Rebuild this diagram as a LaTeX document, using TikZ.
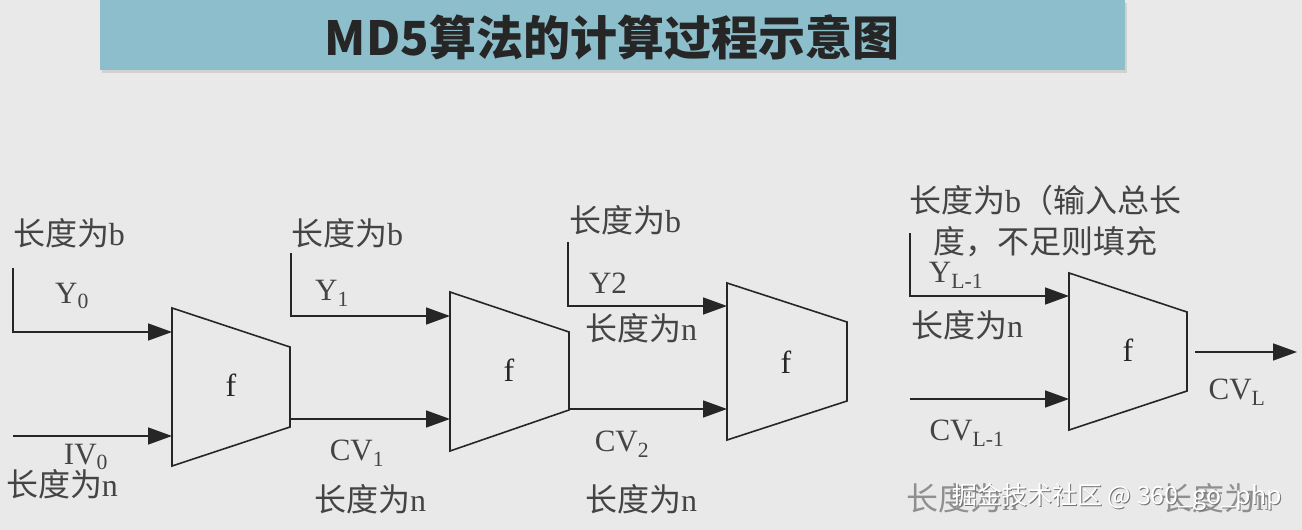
\documentclass[tikz,border=0pt]{standalone}
\usepackage{fontspec}
\setmainfont{Liberation Serif}
\newfontfamily\cjk{Noto Sans CJK SC}
\usetikzlibrary{arrows.meta}
\definecolor{bg}{HTML}{E9E9E9}
\definecolor{banner}{HTML}{8CBFCB}
\definecolor{ink}{HTML}{262626}
\definecolor{txt}{HTML}{444444}
\newcommand\lenlab[1]{{\cjk 长度为}#1}
\begin{document}
\begin{tikzpicture}[x=1pt,y=-1pt,
  trap/.style={draw=ink,line width=1.6pt,line join=miter},
  wire/.style={draw=ink,line width=1.6pt},
  arr/.style={wire,-{Triangle[length=24pt,width=17pt]}},
  lab/.style={font=\fontsize{31}{33}\selectfont,text=txt,inner sep=0pt},
  clab/.style={font=\fontsize{32}{34}\selectfont,text=txt,inner sep=0pt},
  flab/.style={font=\fontsize{32}{34}\selectfont,text=ink,inner sep=0pt}]
\useasboundingbox (0,0) rectangle (1302,530);
\fill[bg] (0,0) rectangle (1302,530);
% banner
\fill[black!18] (102,3) rectangle (1127,73);
\fill[banner] (100,0) rectangle (1125,70);
\node[font=\cjk\bfseries\fontsize{47}{49}\selectfont,text=black!85,inner sep=0pt] (title) at (612,37) {MD5算法的计算过程示意图};

% ---------- block 1 ----------
\coordinate (a1) at (172,308); \coordinate (a2) at (290,347);
\coordinate (a3) at (290,427); \coordinate (a4) at (172,466);
\draw[trap] (a1) -- (a2) -- (a3) -- (a4) -- cycle;
\node[flab] (f1) at (231,385) {f};
\coordinate (y0s) at (13,268); \coordinate (y0c) at (13,332); \coordinate (y0e) at (172,332);
\draw[arr] (y0s) -- (y0c) -- (y0e);
\coordinate (iv0s) at (13,436); \coordinate (iv0e) at (172,436);
\draw[arr] (iv0s) -- (iv0e);
\node[clab] (lb0) at (69,233) {\lenlab{b}};
\node[lab] (y0) at (72,296) {Y\textsubscript{0}};
\node[lab] (iv0) at (86,457) {IV\textsubscript{0}};
\node[clab] (ln0) at (62,484) {\lenlab{n}};

% ---------- block 2 ----------
\coordinate (b1) at (450,292); \coordinate (b2) at (569,332);
\coordinate (b3) at (569,410); \coordinate (b4) at (450,451);
\draw[trap] (b1) -- (b2) -- (b3) -- (b4) -- cycle;
\node[flab] (f2) at (509,370) {f};
\coordinate (cv1s) at (290,419); \coordinate (cv1e) at (450,419);
\draw[arr] (cv1s) -- (cv1e);
\coordinate (y1s) at (291,253); \coordinate (y1c) at (291,316); \coordinate (y1e) at (450,316);
\draw[arr] (y1s) -- (y1c) -- (y1e);
\node[clab] (lb1) at (347,233) {\lenlab{b}};
\node[lab] (y1) at (332,293) {Y\textsubscript{1}};
\node[lab] (cv1) at (357,453) {CV\textsubscript{1}};
\node[clab] (ln1) at (370,499) {\lenlab{n}};

% ---------- block 3 ----------
\coordinate (c1) at (727,283); \coordinate (c2) at (847,322);
\coordinate (c3) at (847,401); \coordinate (c4) at (727,440);
\draw[trap] (c1) -- (c2) -- (c3) -- (c4) -- cycle;
\node[flab] (f3) at (786,362) {f};
\coordinate (cv2s) at (569,409); \coordinate (cv2e) at (727,409);
\draw[arr] (cv2s) -- (cv2e);
\coordinate (y2s) at (568,242); \coordinate (y2c) at (568,306); \coordinate (y2e) at (727,306);
\draw[arr] (y2s) -- (y2c) -- (y2e);
\node[clab] (lb2) at (625,220) {\lenlab{b}};
\node[lab] (y2) at (608,283) {Y2};
\node[clab] (ln2a) at (641,328) {\lenlab{n}};
\node[lab] (cv2) at (622,444) {CV\textsubscript{2}};
\node[clab] (ln2) at (641,499) {\lenlab{n}};

% ---------- block 4 ----------
\coordinate (d1) at (1069,273); \coordinate (d2) at (1187,312);
\coordinate (d3) at (1187,391); \coordinate (d4) at (1069,430);
\draw[trap] (d1) -- (d2) -- (d3) -- (d4) -- cycle;
\node[flab] (f4) at (1128,350) {f};
\coordinate (yls) at (910,233); \coordinate (ylc) at (910,296); \coordinate (yle) at (1069,296);
\draw[arr] (yls) -- (ylc) -- (yle);
\coordinate (cvls) at (910,399); \coordinate (cvle) at (1069,399);
\draw[arr] (cvls) -- (cvle);
\coordinate (outs) at (1195,352); \coordinate (oute) at (1297,352);
\draw[arr] (outs) -- (oute);
\node[clab,anchor=west] (lb3a) at (909,200) {\lenlab{b}{\cjk （输入总长}};
\node[clab,anchor=west] (lb3b) at (933,242) {\cjk 度，不足则填充};
\node[lab] (yl) at (956,275) {Y\textsubscript{L-1}};
\node[clab] (ln3a) at (967,325) {\lenlab{n}};
\node[lab] (cvl1) at (967,433) {CV\textsubscript{L-1}};
\node[lab] (cvl) at (1237,392) {CV\textsubscript{L}};
\node[clab,text=txt!60] (ln3) at (962,498) {\lenlab{n}};
\node[clab,text=txt!60] (ln4) at (1216,498) {\lenlab{n}};
% watermark
\node[font=\cjk\fontsize{25}{27}\selectfont,text=black!55,inner sep=0pt] (wms) at (1118,498) {掘金技术社区 @ 360\_go\_php};
\node[font=\cjk\fontsize{25}{27}\selectfont,text=white,inner sep=0pt] (wm) at (1117,497) {掘金技术社区 @ 360\_go\_php};
\end{tikzpicture}
\end{document}
